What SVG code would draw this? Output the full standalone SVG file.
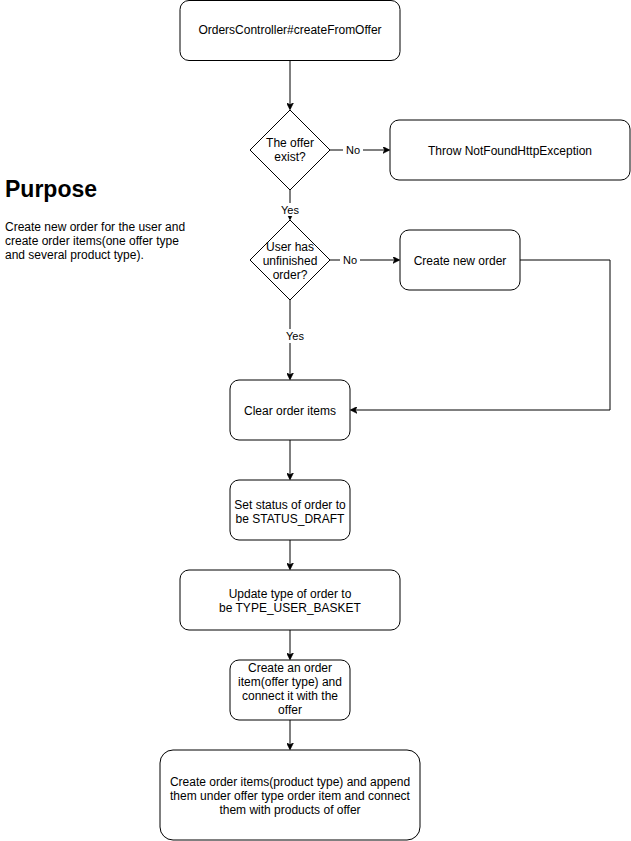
<svg xmlns="http://www.w3.org/2000/svg" width="631" height="841" viewBox="0 0 631 841">
<style>
.box{fill:#fff;stroke:#000;stroke-width:1}
.t{font-family:"Liberation Sans",Arial,sans-serif;font-size:12px;fill:#000;text-anchor:middle}
.l{font-family:"Liberation Sans",Arial,sans-serif;font-size:11px;fill:#000;text-anchor:middle}
.p{font-family:"Liberation Sans",Arial,sans-serif;font-size:12px;fill:#000}
.e{fill:none;stroke:#000;stroke-width:1}
.lb{fill:#fff}
</style>
<defs>
<marker id="arr" viewBox="0 0 10 10" refX="9" refY="5" markerWidth="7" markerHeight="7" orient="auto" markerUnits="userSpaceOnUse">
<path d="M0,0 L10,5 L0,10 L3,5 Z" fill="#000" stroke="#000" stroke-width="1"/>
</marker>
</defs>
<rect width="631" height="841" fill="#fff"/>
<g id="connectors">
<path class="e" d="M290,60 L290,109" marker-end="url(#arr)"/>
<path class="e" d="M330,150 L389,150" marker-end="url(#arr)"/>
<path class="e" d="M290,190 L290,219" marker-end="url(#arr)"/>
<path class="e" d="M330,260 L399,260" marker-end="url(#arr)"/>
<path class="e" d="M290,300 L290,379" marker-end="url(#arr)"/>
<path class="e" d="M520,260 L610,260 L610,410 L351,410" marker-end="url(#arr)"/>
<path class="e" d="M290,440 L290,479" marker-end="url(#arr)"/>
<path class="e" d="M290,540 L290,569" marker-end="url(#arr)"/>
<path class="e" d="M290,630 L290,659" marker-end="url(#arr)"/>
<path class="e" d="M290,720 L290,749" marker-end="url(#arr)"/>
<rect class="lb" x="343" y="143" width="20" height="14"/>
<text class="l" x="353" y="154">No</text>
<rect class="lb" x="340" y="253" width="20" height="14"/>
<text class="l" x="350" y="264">No</text>
<rect class="lb" x="280" y="203" width="21" height="13"/>
<text class="l" x="290" y="214">Yes</text>
<rect class="lb" x="280" y="329" width="21" height="14"/>
<text class="l" x="295" y="340">Yes</text>
</g>
<g id="start">
<rect class="box" x="180" y="0.5" width="220" height="60" rx="9" ry="9"/>
<text class="t" x="290" y="34">OrdersController#createFromOffer</text>
</g>
<g id="offerExist">
<path class="box" d="M290,110 L330,150 L290,190 L250,150 Z" stroke-linejoin="round"/>
<text class="t" x="290" y="147">The offer</text>
<text class="t" x="290" y="161">exist?</text>
</g>
<g id="throwNotFound">
<rect class="box" x="390" y="120" width="240" height="60" rx="9" ry="9"/>
<text class="t" x="510" y="155">Throw NotFoundHttpException</text>
</g>
<g id="unfinishedOrder">
<path class="box" d="M290,220 L330,260 L290,300 L250,260 Z" stroke-linejoin="round"/>
<text class="t" x="290" y="251">User has</text>
<text class="t" x="290" y="265">unfinished</text>
<text class="t" x="290" y="279">order?</text>
</g>
<g id="createNewOrder">
<rect class="box" x="400" y="230" width="120" height="60" rx="9" ry="9"/>
<text class="t" x="460" y="265">Create new order</text>
</g>
<g id="clearItems">
<rect class="box" x="230" y="380" width="120" height="60" rx="9" ry="9"/>
<text class="t" x="290" y="415">Clear order items</text>
</g>
<g id="setStatus">
<rect class="box" x="230" y="480" width="120" height="60" rx="9" ry="9"/>
<text class="t" x="290" y="509">Set status of order to</text>
<text class="t" x="290" y="523">be STATUS_DRAFT</text>
</g>
<g id="updateType">
<rect class="box" x="180" y="570" width="220" height="60" rx="9" ry="9"/>
<text class="t" x="290" y="598">Update type of order to</text>
<text class="t" x="290" y="612">be TYPE_USER_BASKET</text>
</g>
<g id="createOfferItem">
<rect class="box" x="230" y="660" width="120" height="60" rx="9" ry="9"/>
<text class="t" x="290" y="672">Create an order</text>
<text class="t" x="290" y="686">item(offer type) and</text>
<text class="t" x="290" y="700">connect it with the</text>
<text class="t" x="290" y="714">offer</text>
</g>
<g id="createProductItems">
<rect class="box" x="160" y="750" width="260" height="90" rx="13" ry="13"/>
<text class="t" x="290" y="786">Create order items(product type) and append</text>
<text class="t" x="290" y="800">them under offer type order item and connect</text>
<text class="t" x="290" y="814">them with products of offer</text>
</g>
<g id="purpose">
<text x="5" y="197" font-family="Liberation Sans,Arial,sans-serif" font-size="23" font-weight="bold">Purpose</text>
<text class="p" x="5" y="231">Create new order for the user and</text>
<text class="p" x="5" y="245">create order items(one offer type</text>
<text class="p" x="5" y="259">and several product type).</text>
</g>
</svg>
